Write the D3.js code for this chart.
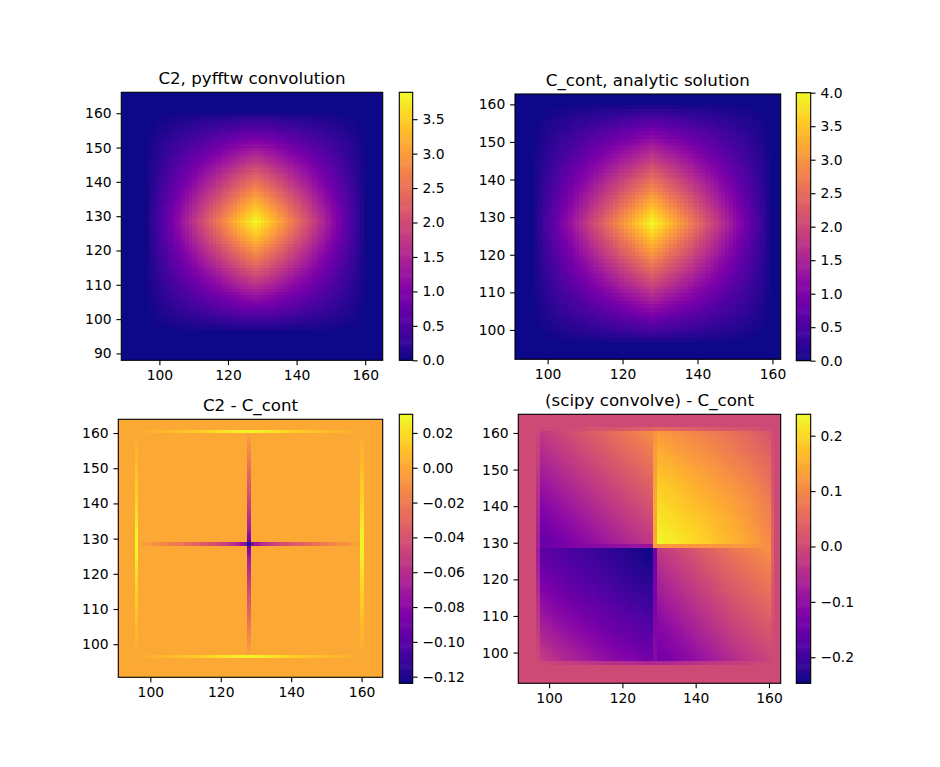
<!DOCTYPE html>
<html><head><meta charset="utf-8">
<script src="https://cdn.jsdelivr.net/npm/d3@7"></script>
<style>
html,body{margin:0;padding:0;background:#fff}
svg{display:block}
text{font-family:"DejaVu Sans";fill:#000}
</style></head><body><div id="chart"></div>
<script>
// ---------- values ----------
const titles = ["C2, pyfftw convolution","C_cont, analytic solution","C2 - C_cont","(scipy convolve) - C_cont"];
const xTicks = [100,120,140,160];
const yTicksA = [90,100,110,120,130,140,150,160];
const yTicksB = [100,110,120,130,140,150,160];
const cbTicksA = [0,0.5,1,1.5,2,2.5,3,3.5];
const cbTicksB = [0,0.5,1,1.5,2,2.5,3,3.5,4];
const cbTicksC = [-0.12,-0.10,-0.08,-0.06,-0.04,-0.02,0,0.02];
const cbTicksD = [-0.2,-0.1,0,0.1,0.2];
const colorRanges = [[0,3.89],[0,4],[-0.1238,0.0307],[-0.247,0.2386]];

// sample rows/columns of the two top images (row order: top to bottom)
const knots4 = [96,100,104,108,112,116,120,124,128,132,136,140,144,148,152,156,160];
const c2Grid = [
[0,.01,.01,.02,.02,.02,.03,.03,.03,.03,.03,.02,.02,.02,.01,.01,0],
[.01,.06,.13,.19,.25,.31,.38,.44,.46,.44,.38,.31,.25,.19,.13,.06,.01],
[.01,.13,.25,.38,.5,.63,.75,.88,.95,.88,.75,.63,.5,.38,.25,.13,.01],
[.02,.19,.38,.56,.75,.94,1.13,1.31,1.45,1.31,1.13,.94,.75,.56,.38,.19,.02],
[.02,.25,.5,.75,1,1.25,1.5,1.75,1.96,1.75,1.5,1.25,1,.75,.5,.25,.02],
[.02,.31,.63,.94,1.25,1.56,1.88,2.19,2.46,2.19,1.88,1.56,1.25,.94,.63,.31,.02],
[.03,.38,.75,1.13,1.5,1.88,2.25,2.63,2.95,2.63,2.25,1.88,1.5,1.13,.75,.38,.03],
[.03,.44,.88,1.31,1.75,2.19,2.63,3.06,3.44,3.06,2.63,2.19,1.75,1.31,.88,.44,.03],
[.03,.46,.96,1.46,1.97,2.47,2.96,3.45,3.89,3.45,2.96,2.47,1.97,1.46,.96,.46,.03],
[.03,.44,.88,1.31,1.75,2.19,2.63,3.06,3.44,3.06,2.63,2.19,1.75,1.31,.88,.44,.03],
[.03,.38,.75,1.13,1.5,1.88,2.25,2.63,2.95,2.63,2.25,1.88,1.5,1.13,.75,.38,.03],
[.02,.31,.63,.94,1.25,1.56,1.88,2.19,2.46,2.19,1.88,1.56,1.25,.94,.63,.31,.02],
[.02,.25,.5,.75,1,1.25,1.5,1.75,1.96,1.75,1.5,1.25,1,.75,.5,.25,.02],
[.02,.19,.38,.56,.75,.94,1.13,1.31,1.45,1.31,1.13,.94,.75,.56,.38,.19,.02],
[.01,.13,.25,.38,.5,.63,.75,.88,.95,.88,.75,.63,.5,.38,.25,.13,.01],
[.01,.06,.13,.19,.25,.31,.38,.44,.46,.44,.38,.31,.25,.19,.13,.06,.01],
[0,.01,.01,.02,.02,.02,.03,.03,.03,.03,.03,.02,.02,.02,.01,.01,0]];
const cContGrid = [
[0,0,0,0,0,0,0,0,0,0,0,0,0,0,0,0,0],
[0,.06,.13,.19,.25,.31,.38,.44,.5,.44,.38,.31,.25,.19,.13,.06,0],
[0,.13,.25,.38,.5,.63,.75,.88,1,.88,.75,.63,.5,.38,.25,.13,0],
[0,.19,.38,.56,.75,.94,1.13,1.31,1.5,1.31,1.13,.94,.75,.56,.38,.19,0],
[0,.25,.5,.75,1,1.25,1.5,1.75,2,1.75,1.5,1.25,1,.75,.5,.25,0],
[0,.31,.63,.94,1.25,1.56,1.88,2.19,2.5,2.19,1.88,1.56,1.25,.94,.63,.31,0],
[0,.38,.75,1.13,1.5,1.88,2.25,2.63,3,2.63,2.25,1.88,1.5,1.13,.75,.38,0],
[0,.44,.88,1.31,1.75,2.19,2.63,3.06,3.5,3.06,2.63,2.19,1.75,1.31,.88,.44,0],
[0,.5,1,1.5,2,2.5,3,3.5,4,3.5,3,2.5,2,1.5,1,.5,0],
[0,.44,.88,1.31,1.75,2.19,2.63,3.06,3.5,3.06,2.63,2.19,1.75,1.31,.88,.44,0],
[0,.38,.75,1.13,1.5,1.88,2.25,2.63,3,2.63,2.25,1.88,1.5,1.13,.75,.38,0],
[0,.31,.63,.94,1.25,1.56,1.88,2.19,2.5,2.19,1.88,1.56,1.25,.94,.63,.31,0],
[0,.25,.5,.75,1,1.25,1.5,1.75,2,1.75,1.5,1.25,1,.75,.5,.25,0],
[0,.19,.38,.56,.75,.94,1.13,1.31,1.5,1.31,1.13,.94,.75,.56,.38,.19,0],
[0,.13,.25,.38,.5,.63,.75,.88,1,.88,.75,.63,.5,.38,.25,.13,0],
[0,.06,.13,.19,.25,.31,.38,.44,.5,.44,.38,.31,.25,.19,.13,.06,0],
[0,0,0,0,0,0,0,0,0,0,0,0,0,0,0,0,0]];

// C2 - C_cont: thin lines on a zero background
const edgeTop    = [0,.004,.007,.010,.013,.017,.021,.026,.030,.026,.021,.017,.013,.010,.007,.004,0];
const edgeBottom = [0,.004,.007,.010,.013,.017,.021,.026,.030,.026,.021,.017,.013,.010,.007,.004,0];
const edgeLeft   = [0,.004,.007,.011,.014,.018,.022,.027,.030,.027,.022,.018,.014,.011,.007,.004,0];
const edgeRight  = [0,.004,.007,.011,.014,.018,.022,.027,.030,.027,.022,.018,.014,.011,.007,.004,0];
const crossKnots = [96,100,104,108,112,116,120,124,127,128,129,132,136,140,144,148,152,156,160];
const crossH = [0,-.008,-.015,-.022,-.03,-.038,-.046,-.06,-.08,-.1238,-.08,-.06,-.046,-.038,-.03,-.022,-.015,-.008,0];
const crossV = [0,-.01,-.018,-.028,-.037,-.047,-.058,-.07,-.088,-.1238,-.088,-.07,-.058,-.047,-.037,-.028,-.018,-.01,0];

// (scipy convolve) - C_cont: four quadrants and their separating lines
const kLow  = [98,103,108,113,118,123,128];
const kHigh = [130,135,140,145,150,155,160];
const kDown = [160,155,150,145,140,135,130,129,128,123,118,113,108,103,98];
const kUp   = [98,103,108,113,118,123,128,129,130,135,140,145,150,155,160];
const quadTR = [
[.125,.11,.095,.08,.065,.045,.02],
[.15,.13,.115,.10,.08,.06,.04],
[.17,.155,.135,.12,.10,.08,.055],
[.19,.175,.155,.135,.12,.10,.07],
[.205,.19,.17,.155,.135,.115,.085],
[.22,.205,.19,.17,.15,.125,.095],
[.235,.22,.20,.18,.16,.135,.105]];
const quadTL = [
[-.028,-.006,.016,.038,.06,.082,.104],
[-.05,-.028,-.006,.016,.038,.06,.082],
[-.072,-.05,-.028,-.006,.016,.038,.06],
[-.094,-.072,-.05,-.028,-.006,.016,.038],
[-.116,-.094,-.072,-.05,-.028,-.006,.016],
[-.138,-.116,-.094,-.072,-.05,-.028,-.006],
[-.16,-.138,-.116,-.094,-.072,-.05,-.028]];
const quadBL = [
[-.17,-.18,-.195,-.21,-.22,-.235,-.247],
[-.15,-.165,-.18,-.195,-.21,-.225,-.235],
[-.125,-.145,-.165,-.18,-.195,-.21,-.22],
[-.10,-.125,-.145,-.16,-.175,-.19,-.205],
[-.075,-.10,-.12,-.14,-.155,-.17,-.185],
[-.05,-.075,-.095,-.115,-.135,-.15,-.165],
[-.02,-.05,-.07,-.09,-.11,-.125,-.14]];
const quadBR = [
[-.03,-.005,.02,.045,.07,.09,.11],
[-.05,-.025,0,.025,.05,.07,.09],
[-.07,-.045,-.02,.005,.03,.05,.07],
[-.09,-.065,-.04,-.015,.01,.03,.05],
[-.11,-.085,-.06,-.035,-.01,.01,.03],
[-.125,-.105,-.08,-.055,-.03,-.01,.01],
[-.14,-.12,-.10,-.075,-.05,-.03,-.01]];
const lineV = [.115,.125,.13,.135,.14,.14,.14,.13,-.14,-.135,-.13,-.125,-.12,-.115,-.11];
const lineH = [-.15,-.135,-.12,-.11,-.10,-.09,-.09,.13,.12,.12,.12,.12,.12,.12,.11];
const stripLeft   = [-.005,-.015,-.025,-.04,-.05,-.06,-.07,-.07,-.08,-.07,-.055,-.04,-.03,-.015,-.005];
const stripRight  = [.005,.01,.015,.02,.03,.04,.04,.04,.045,.035,.025,.02,.01,.005,0];
const stripBottom = [-.005,-.015,-.025,-.035,-.045,-.05,-.06,-.06,-.06,-.05,-.04,-.03,-.02,-.01,0];
const stripTop    = [-.005,0,.005,.015,.02,.03,.04,.045,.05,.04,.035,.025,.02,.015,.005];

// ---------- display resampling of the sampled images, as imshow does on screen ----------
const idxScale = k => d3.scaleLinear().domain(k).range(d3.range(k.length)).clamp(true);
function along(arr, k, t){
  const f = idxScale(k)(t), i = Math.min(Math.floor(f), k.length-2), u = f-i;
  return arr[i]*(1-u)+arr[i+1]*u;
}
function surface(grid, kx, kyDown, x, y){
  const fx = idxScale(kx)(x), fy = idxScale(kyDown)(y);
  const i = Math.min(Math.floor(fx), kx.length-2), j = Math.min(Math.floor(fy), kyDown.length-2);
  const u = fx-i, v = fy-j;
  return (grid[j][i]*(1-u)+grid[j][i+1]*u)*(1-v)+(grid[j+1][i]*(1-u)+grid[j+1][i+1]*u)*v;
}
const knots4Down = knots4.slice().reverse();
const valueFns = [
  (n,m)=> (n<96||n>160||m<96||m>160)?0:surface(c2Grid,knots4,knots4Down,n,m),
  (n,m)=> (n<96||n>160||m<96||m>160)?0:surface(cContGrid,knots4,knots4Down,n,m),
  (n,m)=>{
    if(n<96||n>160||m<96||m>160) return 0;
    if(m===160) return along(edgeTop,knots4,n);
    if(m===96) return along(edgeBottom,knots4,n);
    if(n===96) return along(edgeLeft,knots4,m);
    if(n===160) return along(edgeRight,knots4,m);
    if(m===128) return along(crossH,crossKnots,n);
    if(n===128) return along(crossV,crossKnots,m);
    return 0;
  },
  (n,m)=>{
    if(n<97||n>161||m<97||m>161) return 0;
    const edge=(n===97||n===161)&&(m===97||m===161);
    if(edge) return 0;
    if(n===97) return along(stripLeft,kDown,m);
    if(n===161) return along(stripRight,kDown,m);
    if(m===97) return along(stripBottom,kUp,n);
    if(m===161) return along(stripTop,kUp,n);
    if(n===129) return along(lineV,kDown,m);
    if(m===129) return along(lineH,kUp,n);
    const g = m>129 ? (n>129?quadTR:quadTL) : (n>129?quadBR:quadBL);
    const kx = n>129?kHigh:kLow, ky = m>129?kHigh.slice().reverse():kLow.slice().reverse();
    return surface(g,kx,ky,n,m);
  }
];

// ---------- layout ----------
const W=940,H=767,TICK=4.86,PAD=4.86,LW=1.11;
const layout = [
 {box:[121.3,92.3,382.7,360.3], xd:[88.9,165.1], yd:[88.0,166.1], yt:yTicksA, cb:[399.3,92.3,412.7,360.3], ct:cbTicksA, cf:".1f", ox:.1, oy:.4},
 {box:[515,94,780.7,359.3], xd:[91.3,162.2], yd:[92.2,162.75], yt:yTicksB, cb:[796.3,92.7,810.7,360.7], ct:cbTicksB, cf:".1f", ox:-.1, oy:.3},
 {box:[118.3,419.3,382.7,677.3], xd:[90.9,166.0], yd:[90.6,163.9], yt:yTicksB, cb:[399.3,414.3,412.7,683.3], ct:cbTicksC, cf:".2f", ox:.05, oy:.45},
 {box:[518.3,414.3,780.7,683.3], xd:[91.6,163.2], yd:[91.6,165.1], yt:yTicksB, cb:[796.3,414.3,810.7,683.3], ct:cbTicksD, cf:".1f", ox:-.05, oy:.1}
];

const svg=d3.select("#chart").append("svg").attr("width",W).attr("height",H);
const defs=svg.append("defs");

layout.forEach((L,p)=>{
  const [x0,y0,x1,y1]=L.box;
  const x=d3.scaleLinear().domain(L.xd).range([x0,x1]);
  const y=d3.scaleLinear().domain(L.yd).range([y1,y0]);
  const color=d3.scaleSequential(d3.interpolatePlasma).domain(colorRanges[p]);
  const g=svg.append("g");
  defs.append("clipPath").attr("id","clip"+p).append("rect")
    .attr("x",x0).attr("y",y0).attr("width",x1-x0).attr("height",y1-y0);
  const img=g.append("g").attr("clip-path",`url(#clip${p})`);
  const cols=d3.range(Math.floor(L.xd[0])-1,Math.ceil(L.xd[1])+2);
  const rows=d3.range(Math.floor(L.yd[0])-1,Math.ceil(L.yd[1])+2);
  img.selectAll("rect").data(d3.cross(cols,rows)).join("rect")
    .attr("x",d=>x(d[0]+L.ox-.5)).attr("y",d=>y(d[1]+L.oy+.5))
    .attr("width",d=>x(d[0]+L.ox+.5)-x(d[0]+L.ox-.5))
    .attr("height",d=>y(d[1]+L.oy-.5)-y(d[1]+L.oy+.5))
    .attr("shape-rendering","crispEdges")
    .attr("fill",d=>color(valueFns[p](d[0],d[1])));
  g.append("rect").attr("x",x0).attr("y",y0).attr("width",x1-x0).attr("height",y1-y0)
    .attr("fill","none").attr("stroke","#000").attr("stroke-width",LW);
  const xa=g.append("g").attr("transform",`translate(0,${y1})`)
    .call(d3.axisBottom(x).tickValues(xTicks).tickFormat(d3.format("d")).tickSizeOuter(0).tickSize(TICK).tickPadding(PAD));
  const ya=g.append("g").attr("transform",`translate(${x0},0)`)
    .call(d3.axisLeft(y).tickValues(L.yt).tickFormat(d3.format("d")).tickSizeOuter(0).tickSize(TICK).tickPadding(PAD));
  g.append("text").attr("x",(x0+x1)/2).attr("y",y0-8.0).attr("text-anchor","middle")
    .attr("font-size",16.67).text(titles[p]);

  // colour bar
  const [cx0,cy0,cx1,cy1]=L.cb;
  const cy=d3.scaleLinear().domain(colorRanges[p]).range([cy1,cy0]);
  const levels=d3.range(256);
  const band=d3.scaleBand().domain(levels).range([cy1,cy0]);
  const cb=svg.append("g");
  cb.selectAll("rect").data(levels).join("rect")
    .attr("x",cx0).attr("width",cx1-cx0)
    .attr("y",d=>band(d)-0.3).attr("height",band.bandwidth()+0.6)
    .attr("fill",d=>d3.interpolatePlasma((d+.5)/256));
  cb.append("rect").attr("x",cx0).attr("y",cy0).attr("width",cx1-cx0).attr("height",cy1-cy0)
    .attr("fill","none").attr("stroke","#000").attr("stroke-width",LW);
  const ca=cb.append("g").attr("transform",`translate(${cx1},0)`)
    .call(d3.axisRight(cy).tickValues(L.ct).tickFormat(d3.format(L.cf)).tickSizeOuter(0).tickSize(TICK).tickPadding(PAD));
  [xa,ya,ca].forEach(a=>{
    a.select(".domain").remove();
    a.selectAll("line").attr("stroke","#000").attr("stroke-width",LW);
    a.selectAll("text").attr("font-family","DejaVu Sans").attr("font-size",13.89).attr("fill","#000");
  });
});
</script></body></html>
